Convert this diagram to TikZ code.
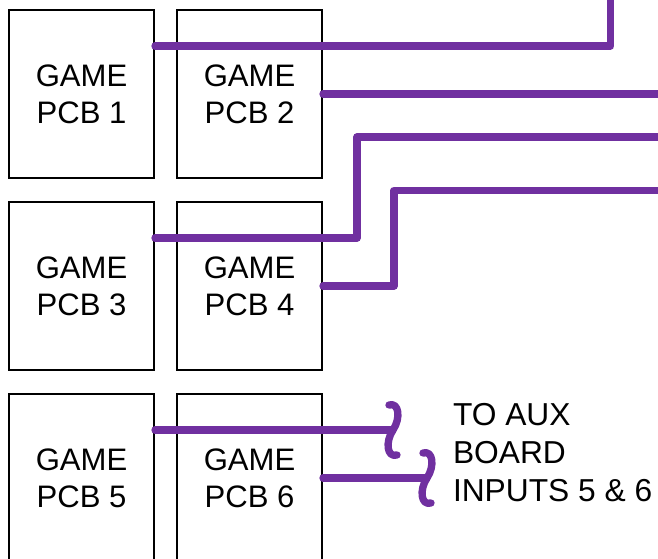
\documentclass[tikz,border=0pt]{standalone}
\usepackage{fontspec}
\setmainfont{Liberation Sans}

\definecolor{wirepurple}{RGB}{112,48,160}
\tikzset{every picture/.style={line width=0.75pt}}
\tikzset{
  pcb/.style={draw=black, line width=1.5pt, minimum width=108.75pt, minimum height=126pt,
    inner sep=0pt, align=center, font=\fontsize{23.3}{28}\selectfont},
  wire/.style={draw=wirepurple, line width=5.5pt, line cap=round, line join=round},
  squiggle/.pic={
    \draw[wire] (4,-25) .. controls (-6,-28) and (-8,-12) .. (0,0) .. controls (8,12) and (6,28) .. (-4,25);
  }
}

\begin{document}
\begin{tikzpicture}[x=0.75pt,y=0.75pt,yscale=-1,xscale=1]
\useasboundingbox (0,0) rectangle (658,559);
\clip (0,0) rectangle (658,559);

%Shape: Rectangle [game boards]
\node[pcb] (pcb1) at (81.5,94) {GAME\\PCB 1};
\node[pcb] (pcb2) at (249.5,94) {GAME\\PCB 2};
\node[pcb] (pcb3) at (81.5,286) {GAME\\PCB 3};
\node[pcb] (pcb4) at (249.5,286) {GAME\\PCB 4};
\node[pcb] (pcb5) at (81.5,478) {GAME\\PCB 5};
\node[pcb] (pcb6) at (249.5,478) {GAME\\PCB 6};

%Free ends of the wires
\coordinate (w1top) at (610.5,-10);
\coordinate (w2end) at (670,94);
\coordinate (w3bend) at (357,137);
\coordinate (w3end) at (670,137);
\coordinate (w4bend) at (394,190.5);
\coordinate (w4end) at (670,190.5);
\coordinate (aux5) at (393,430);
\coordinate (aux6) at (427,478);

%Straight Lines
\draw[wire] ([yshift=-36pt]pcb1.east) -| (w1top);
\draw[wire] (pcb2.east) -- (w2end);
\draw[wire] ([yshift=-36pt]pcb3.east) -| (w3bend) -- (w3end);
\draw[wire] (pcb4.east) -| (w4bend) -- (w4end);
\draw[wire] ([yshift=-36pt]pcb5.east) -- (aux5);
\draw[wire] (pcb6.east) -- (aux6);

%Curve Lines [cut ends]
\pic at (aux5) {squiggle};
\pic at (aux6) {squiggle};

% Text Node
\node[anchor=north west, inner sep=0pt, align=left, font=\fontsize{23.8}{28.3}\selectfont] (auxtext) at (452.5,403) {TO AUX\\BOARD\\INPUTS 5 \& 6};

\end{tikzpicture}
\end{document}
